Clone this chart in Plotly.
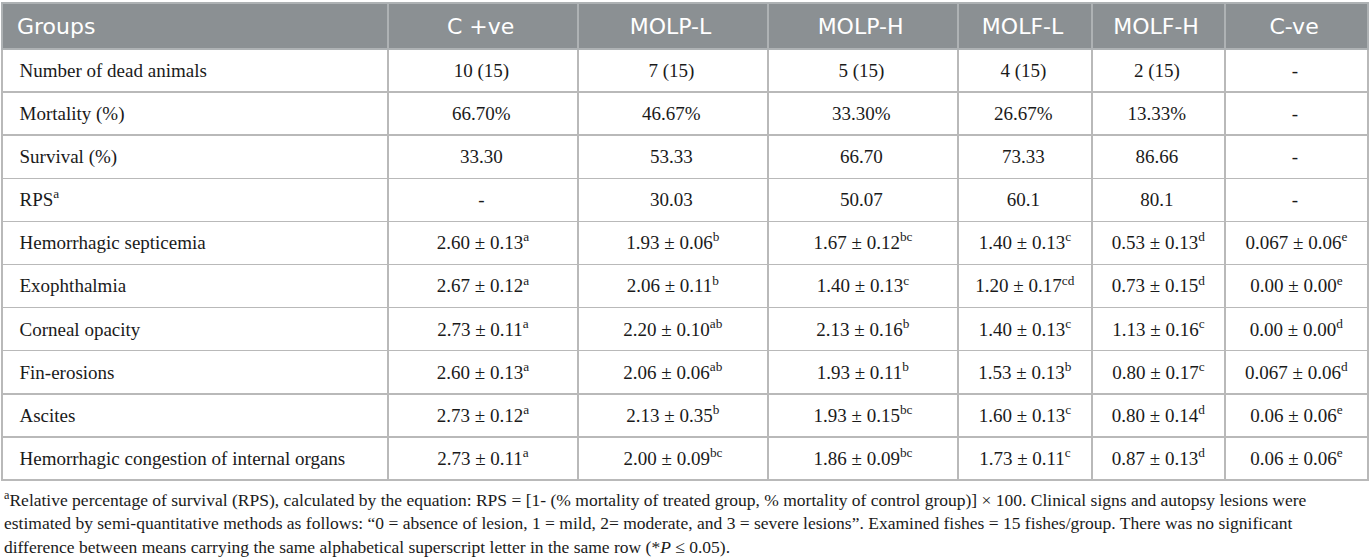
import plotly.graph_objects as go

# column heads and row labels
groups = ["C +ve", "MOLP-L", "MOLP-H", "MOLF-L", "MOLF-H", "C-ve"]
rows = ["Number of dead animals", "Mortality (%)", "Survival (%)", "RPS<sup>a</sup>",
        "Hemorrhagic septicemia", "Exophthalmia", "Corneal opacity", "Fin-erosions",
        "Ascites", "Hemorrhagic congestion of internal organs"]

dead = ["10 (15)", "7 (15)", "5 (15)", "4 (15)", "2 (15)", "-"]
mortality = ["66.70%", "46.67%", "33.30%", "26.67%", "13.33%", "-"]
survival = ["33.30", "53.33", "66.70", "73.33", "86.66", "-"]
rps = ["-", "30.03", "50.07", "60.1", "80.1", "-"]

# lesion scores: mean, SE, letter
sept_mean = ["2.60", "1.93", "1.67", "1.40", "0.53", "0.067"]
sept_se = ["0.13", "0.06", "0.12", "0.13", "0.13", "0.06"]
sept_sig = ["a", "b", "bc", "c", "d", "e"]

exo_mean = ["2.67", "2.06", "1.40", "1.20", "0.73", "0.00"]
exo_se = ["0.12", "0.11", "0.13", "0.17", "0.15", "0.00"]
exo_sig = ["a", "b", "c", "cd", "d", "e"]

corn_mean = ["2.73", "2.20", "2.13", "1.40", "1.13", "0.00"]
corn_se = ["0.11", "0.10", "0.16", "0.13", "0.16", "0.00"]
corn_sig = ["a", "ab", "b", "c", "c", "d"]

fin_mean = ["2.60", "2.06", "1.93", "1.53", "0.80", "0.067"]
fin_se = ["0.13", "0.06", "0.11", "0.13", "0.17", "0.06"]
fin_sig = ["a", "ab", "b", "b", "c", "d"]

asc_mean = ["2.73", "2.13", "1.93", "1.60", "0.80", "0.06"]
asc_se = ["0.12", "0.35", "0.15", "0.13", "0.14", "0.06"]
asc_sig = ["a", "b", "bc", "c", "d", "e"]

cong_mean = ["2.73", "2.00", "1.86", "1.73", "0.87", "0.06"]
cong_se = ["0.11", "0.09", "0.09", "0.11", "0.13", "0.06"]
cong_sig = ["a", "bc", "bc", "c", "d", "e"]

footnote = [
  "<sup>a</sup>Relative percentage of survival (RPS), calculated by the equation: RPS = [1- (% mortality of treated group, "
  "% mortality of control group)] × 100. Clinical signs and autopsy lesions were",
  "estimated by semi-quantitative methods as follows: “0 = absence of lesion, 1 = mild, 2= moderate, and 3 = severe "
  "lesions”. Examined fishes = 15 fishes/group. There was no significant",
  "difference between means carrying the same alphabetical superscript letter in the same row (*<i>P</i> ≤ 0.05).",
]

def score(m, s, l):
  return ["%s ± %s<sup>%s</sup>" % t for t in zip(m, s, l)]

def lift(t):
  # plotly puts the top of the text box at a fixed pad, so give every cell
  # the same box height as the ones with a superscript
  return t if "<sup>" in t else t + "<sup>\u00a0</sup>"

table_rows = [dead, mortality, survival, rps,
              score(sept_mean, sept_se, sept_sig),
              score(exo_mean, exo_se, exo_sig),
              score(corn_mean, corn_se, corn_sig),
              score(fin_mean, fin_se, fin_sig),
              score(asc_mean, asc_se, asc_sig),
              score(cong_mean, cong_se, cong_sig)]

pad = "\u00a0\u00a0"
columns = [[lift(pad + r) for r in rows]] + \
          [[lift(r[i]) for r in table_rows] for i in range(len(groups))]
header = [lift(h) for h in ["\u00a0Groups"] + groups]

W, H = 1372, 560
top = 3
fig = go.Figure(go.Table(
  columnwidth = [386, 190, 190, 190, 134, 133, 143],
  header = dict(
    values = header,
    fill_color = "#8b9093",
    line = dict(color = "#aeb2b4", width = 1.5),
    font = dict(family = "DejaVu Sans", size = 22, color = "white"),
    align = ["left"] + ["center"] * 6,
    height = 46,
  ),
  cells = dict(
    values = columns,
    fill_color = "white",
    line = dict(color = "#b9b9b9", width = 1.5),
    font = dict(family = "Liberation Serif", size = 19, color = "#1a1a1a"),
    align = ["left"] + ["center"] * 6,
    height = 43.1,
  ),
  domain = dict(x = [0, 1], y = [0, 1]),
))

for i, line in enumerate(footnote):
  ypx = 499 + 24 * i
  fig.add_annotation(
    text = line, xref = "paper", yref = "paper",
    x = 0, xanchor = "left", y = 1 - (ypx - top) / (H - top), yanchor = "middle",
    showarrow = False, align = "left",
    font = dict(family = "Liberation Serif", size = 17.5, color = "#1a1a1a"),
  )

fig.update_layout(
  width = W, height = H,
  margin = dict(l = 2, r = 4, t = top, b = 0),
  paper_bgcolor = "white",
  plot_bgcolor = "white",
)

# the page body has a default 8px margin, drop it so the figure sits at 0,0
fig.write_html("out.html", config = {"displayModeBar": False},
               post_script = "document.body.style.margin = '0';")
